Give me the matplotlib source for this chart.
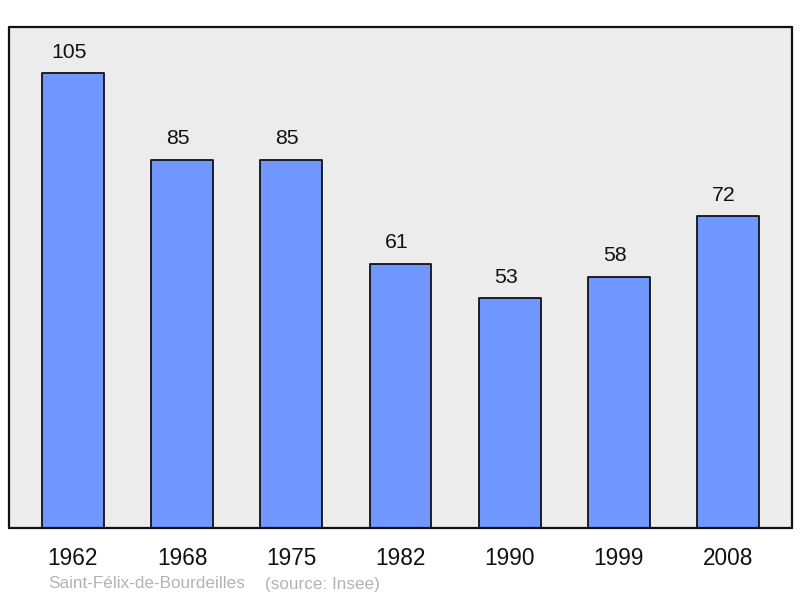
import matplotlib
matplotlib.use("Agg")
import matplotlib.pyplot as plt

years = ["1962", "1968", "1975", "1982", "1990", "1999", "2008"]
population = [105, 85, 85, 61, 53, 58, 72]
commune = "Saint-Félix-de-Bourdeilles"
source = "(source: Insee)"

plt.rcParams['font.family'] = ['Liberation Sans', 'DejaVu Sans']

fig = plt.figure(figsize=(8.0, 5.98), dpi=100)
ax = fig.add_axes([9/800, 70/598, 783/800, 501/598])
ax.set_facecolor('#ececec')

x = list(range(len(years)))
bars = ax.bar(x, population, width=0.567, color='#7097ff', edgecolor='#111111',
              linewidth=1.3, zorder=2)
for b in bars:
    b.set_joinstyle('round')

for xi, v in zip(x, population):
    ax.annotate(str(v), (xi, v), xytext=(-3, 15), textcoords='offset points',
                ha='center', va='center', fontsize=15.3, color='#111111')

ax.set_xlim(-0.585, len(years) - 1 + 0.585)
ax.set_ylim(0, 115.6)
ax.set_xticks(x)
ax.set_xticklabels(years, fontsize=16.3, color='#111111')
ax.tick_params(axis='x', length=0, pad=13.5)
ax.set_yticks([])
for s in ax.spines.values():
    s.set_linewidth(1.6)
    s.set_color('#111111')
    s.set_capstyle('round')
    s.set_joinstyle('round')

fig.text(48/800, 1 - 584/598, commune, fontsize=12.3, color='#b3b3b3',
         ha='left', va='center')
fig.text(265/800, 1 - 584/598, source, fontsize=12.3, color='#b3b3b3',
         ha='left', va='center')

fig.savefig("out.png", dpi=100)
